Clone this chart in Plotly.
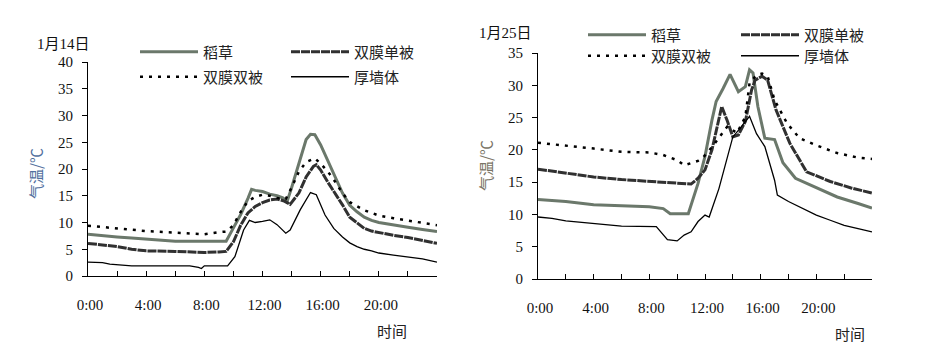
import plotly.graph_objects as go

W, H = 945, 360

# ---------------- data: 1月14日 ----------------
jan14_straw_h = [0, 1, 2, 3, 4, 5, 6, 7, 8, 9, 9.5, 10, 10.5, 11, 11.25, 11.5, 12, 12.5, 13, 13.4, 13.7,
                 14, 14.5, 15, 15.3, 15.6, 16, 16.5, 17, 17.5, 18, 18.5, 19, 19.5, 20, 21, 22, 23, 24]
jan14_straw_v = [7.8, 7.5, 7.3, 7.1, 6.9, 6.7, 6.5, 6.5, 6.5, 6.5, 6.5, 9.0, 11.5, 14.5, 16.2, 16.0, 15.8, 15.3,
                 15.0, 14.6, 14.0, 16.5, 21.0, 25.5, 26.5, 26.4, 24.5, 21.5, 18.5, 15.5, 13.2, 12.0, 11.0,
                 10.4, 10.0, 9.5, 9.1, 8.7, 8.3]

jan14_single_h = [0, 1, 2, 3, 4, 6, 8, 9, 9.5, 10, 10.5, 11, 11.5, 12, 12.5, 13, 13.5, 13.9, 14.5, 15, 15.5,
                  15.7, 16, 16.5, 17, 17.5, 18, 18.5, 19, 19.5, 20, 21, 22, 23, 24]
jan14_single_v = [6.1, 5.8, 5.5, 5.0, 4.7, 4.6, 4.4, 4.5, 4.6, 6.4, 9.5, 11.8, 13.0, 13.7, 14.2, 14.4, 14.0,
                  13.4, 15.5, 18.5, 20.5, 20.8, 19.8, 17.5, 15.5, 13.3, 11.0, 10.0, 8.9, 8.4, 8.1, 7.6, 7.2,
                  6.7, 6.1]

jan14_double_h = [0, 2, 4, 6, 8, 9, 9.5, 10, 10.5, 11, 11.5, 12, 12.5, 13, 13.6, 14, 14.5, 15, 15.6, 16,
                  16.5, 17, 17.5, 18, 18.5, 19, 19.5, 20, 21, 22, 23, 24]
jan14_double_v = [9.4, 8.9, 8.4, 8.1, 7.8, 8.2, 8.3, 9.5, 12.0, 14.0, 14.8, 15.2, 15.0, 14.6, 14.4, 16.5,
                  19.5, 21.3, 22.0, 21.0, 19.5, 17.6, 15.5, 13.8, 13.0, 12.3, 11.8, 11.3, 10.8, 10.4,
                  10.0, 9.5]

jan14_wall_h = [0, 1, 1.5, 3, 5, 7, 7.6, 7.8, 8.0, 9, 9.6, 10.1, 10.7, 11.1, 11.5, 12, 12.5, 13, 13.6, 13.9,
                14.6, 15.3, 15.7, 16.3, 16.9, 17.5, 18, 18.5, 19, 19.5, 20, 21, 22, 23, 24]
jan14_wall_v = [2.6, 2.5, 2.2, 1.9, 1.9, 1.9, 1.6, 1.4, 1.9, 1.9, 1.9, 3.6, 8.6, 10.4, 10.0, 10.2, 10.5, 9.6,
                8.0, 8.6, 12.4, 15.6, 15.2, 11.4, 8.9, 7.3, 6.2, 5.5, 5.0, 4.7, 4.3, 3.9, 3.6, 3.2, 2.6]

# ---------------- data: 1月25日 ----------------
jan25_straw_h = [0, 2, 4, 6, 8, 9, 9.5, 10, 10.8, 11.5, 12, 12.5, 12.8, 13.3, 13.8, 14.4, 14.9, 15.2, 15.45,
                 15.8, 16.3, 17, 17.6, 18.5, 19.8, 21.5, 23, 24]
jan25_straw_v = [12.3, 12.0, 11.5, 11.3, 11.2, 10.9, 10.1, 10.1, 10.1, 14.8, 19.0, 24.6, 27.5, 29.5, 31.7,
                 29.0, 29.8, 32.4, 31.9, 26.7, 21.8, 21.6, 18.0, 15.6, 14.3, 12.7, 11.7, 11.0]

jan25_single_h = [0, 2, 4, 6, 8, 10, 11, 11.5, 12, 12.5, 13, 13.2, 13.6, 14, 14.4, 14.9, 15.35, 15.6, 16.1,
                  16.5, 17.1, 18.1, 19.3, 21, 22.5, 24]
jan25_single_v = [17.0, 16.4, 15.8, 15.4, 15.1, 14.8, 14.7, 15.6, 16.9, 20.0, 25.0, 26.7, 24.5, 22.0, 22.3,
                  24.4, 29.3, 30.8, 31.4, 30.8, 26.2, 21.0, 16.6, 15.1, 14.1, 13.3]

jan25_double_h = [0, 2, 4, 6, 8, 9, 10, 10.5, 11, 11.5, 11.9, 12.6, 13.6, 14.3, 14.9, 15.2, 15.7, 16.1, 16.5,
                  17, 17.9, 18.8, 20, 21.5, 23, 24]
jan25_double_v = [21.1, 20.7, 20.2, 19.7, 19.6, 19.2, 18.4, 17.6, 17.9, 18.3, 18.9, 20.7, 23.6, 22.6, 25.1,
                  30.3, 31.6, 31.8, 31.4, 27.7, 24.1, 21.8, 20.7, 19.5, 18.8, 18.6]

jan25_wall_h = [0, 1, 2, 4, 6, 8.5, 9.3, 10, 10.5, 11, 11.5, 12, 12.3, 13, 14, 14.5, 15.2, 15.7, 16.3, 17,
                17.2, 18, 19, 20, 21, 22, 23, 24]
jan25_wall_v = [9.6, 9.4, 9.0, 8.6, 8.2, 8.1, 6.1, 5.9, 6.8, 7.3, 8.9, 9.9, 9.6, 14.0, 22.0, 23.3, 25.2,
                22.5, 20.5, 15.3, 13.0, 12.0, 10.9, 9.9, 9.1, 8.3, 7.8, 7.3]

series_names = ["稻草", "双膜单被", "双膜双被", "厚墙体"]
date_labels = ["1月14日", "1月25日"]
x_tick_vals = [0, 2, 4, 6, 8, 10, 12, 14, 16, 18, 20, 22, 24]
x_tick_text = ["0:00", "", "4:00", "", "8:00", "", "12:00", "", "16:00", "", "20:00", "", ""]
y_title = "气温/℃"
x_title = "时间"

# ---------------- styling ----------------
SERIF = "Liberation Serif, Noto Sans CJK SC"
CJK = "Noto Sans CJK SC, Liberation Serif"
styles = {
    "稻草": dict(color="#6b786b", width=3, dash="solid"),
    "双膜单被": dict(color="#303030", width=3, dash="9px,1px"),
    "双膜双被": dict(color="#000000", width=2.5, dash="3px,6px"),
    "厚墙体": dict(color="#000000", width=1.3, dash="solid"),
}


def px(x):
    return x / W


def py(y):
    return 1 - y / H


fig = go.Figure()

panels = [
    ("x", "y", [(jan14_straw_h, jan14_straw_v), (jan14_single_h, jan14_single_v),
                (jan14_double_h, jan14_double_v), (jan14_wall_h, jan14_wall_v)], ["legend", "legend", "legend2", "legend2"]),
    ("x2", "y2", [(jan25_straw_h, jan25_straw_v), (jan25_single_h, jan25_single_v),
                  (jan25_double_h, jan25_double_v), (jan25_wall_h, jan25_wall_v)], ["legend3", "legend3", "legend4", "legend4"]),
]

for xa, ya, data, legs in panels:
    for name, (hh, vv), lg in zip(series_names, data, legs):
        fig.add_trace(go.Scatter(
            x=hh, y=vv, name=name, mode="lines", xaxis=xa, yaxis=ya,
            line=dict(**styles[name]), legend=lg, showlegend=True,
        ))

xcommon = dict(range=[0, 24], tickvals=x_tick_vals, ticktext=x_tick_text, ticks="inside", ticklen=5,
               tickcolor="black", showline=True, linecolor="black", linewidth=1, showgrid=False,
               zeroline=False, tickfont=dict(family=SERIF, size=15, color="#111"),
               ticklabelstandoff=15, ticklabelshift=2, fixedrange=True, automargin=False)
ycommon = dict(ticks="outside", ticklen=5, tickcolor="black", showline=True, linecolor="black",
               linewidth=1, showgrid=False, zeroline=False, dtick=5,
               tickfont=dict(family=SERIF, size=15, color="#111"), ticklabelstandoff=6, fixedrange=True,
               automargin=False)

legend_common = dict(orientation="h", itemwidth=58, font=dict(family=CJK, size=15, color="#222"),
                     bgcolor="rgba(0,0,0,0)", borderwidth=0, entrywidthmode="pixels",
                     xanchor="left", yanchor="middle", tracegroupgap=0, itemclick=False,
                     itemdoubleclick=False)


def note(text, x, y, color="#111", family=SERIF, angle=0):
    return dict(text=text, x=px(x), y=py(y), xref="paper", yref="paper", showarrow=False,
                xanchor="center", yanchor="middle", textangle=angle,
                font=dict(family=family, size=15, color=color))


fig.update_layout(
    width=W, height=H, margin=dict(l=0, r=0, t=0, b=0, autoexpand=False),
    paper_bgcolor="white", plot_bgcolor="white",
    xaxis=dict(domain=[px(88), px(437)], anchor="y", **xcommon),
    yaxis=dict(domain=[py(276), py(62)], range=[0, 40], anchor="x", **ycommon),
    xaxis2=dict(domain=[px(538), px(872)], anchor="y2", **xcommon),
    yaxis2=dict(domain=[py(279), py(53)], range=[0, 35], anchor="x2", **ycommon),
    legend=dict(x=px(135), y=py(52), entrywidth=78, **legend_common),
    legend2=dict(x=px(135), y=py(77), entrywidth=78, **legend_common),
    legend3=dict(x=px(583), y=py(35), entrywidth=80, **legend_common),
    legend4=dict(x=px(583), y=py(56), entrywidth=80, **legend_common),
    annotations=[
        note(date_labels[0], 63, 44),
        note(date_labels[1], 505, 33),
        note(y_title, 35, 174, color="#52709e", family=CJK, angle=-90),
        note(y_title, 485, 166, color="#7a7466", family=CJK, angle=-90),
        note(x_title, 392, 330, color="#222", family=CJK),
        note(x_title, 850, 333, color="#222", family=CJK),
    ],
)

fig.write_html("out.html", config={"displayModeBar": False},
               post_script="document.body.style.margin='0px';")
